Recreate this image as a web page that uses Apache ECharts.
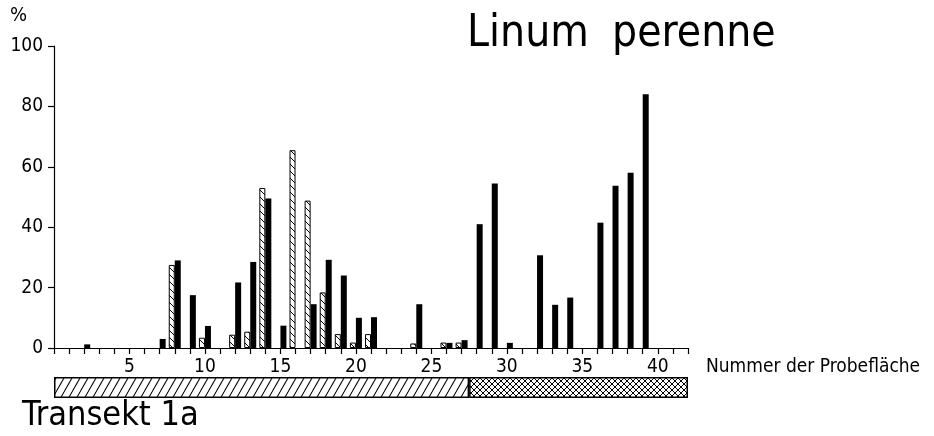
<!DOCTYPE html>
<html>
<head>
<meta charset="utf-8">
<script src="https://cdn.jsdelivr.net/npm/echarts@6/dist/echarts.min.js"></script>
<style>html,body{margin:0;padding:0;background:#fff}#c{width:934px;height:436px}</style>
</head>
<body>
<div id="c"></div>
<script>
// Sample numbers (Nummer der Probefläche), 0..42
const samples = Array.from({length: 43}, (_, i) => String(i));
// Hatched bars (values in %), by sample number
const hatchedPoints = [[8,27.5],[10,3.4],[12,4.4],[13,5.4],[14,53],[16,65.5],[17,48.8],[18,18.4],[19,4.6],[20,1.8],[21,4.6],[24,1.5],[26,1.8],[27,1.8]];
// Black bars (values in %), by sample number
const blackPoints = [[2,1.2],[7,3],[8,29],[9,17.5],[10,7.3],[12,21.7],[13,28.5],[14,49.5],[15,7.4],[17,14.5],[18,29.2],[19,24],[20,10],[21,10.2],[24,14.5],[26,1.7],[27,2.6],[28,41],[29,54.5],[30,1.7],[32,30.7],[33,14.3],[34,16.7],[36,41.5],[37,53.7],[38,58],[39,84]];
// Transect segments: [start, end] along the sample axis
const transectSegments = [[0, 27.5], [27.5, 42]];

function toSeries(points) {
  const arr = samples.map(() => null);
  points.forEach(([n, v]) => { arr[n] = v; });
  return arr;
}

function pattern(type, w, h, lw) {
  const c = document.createElement('canvas');
  c.width = w; c.height = h;
  const g = c.getContext('2d');
  g.fillStyle = '#fff'; g.fillRect(0, 0, w, h);
  g.strokeStyle = '#000'; g.lineWidth = lw;
  const back = () => { for (let k = -1; k <= 1; k++) { g.beginPath(); g.moveTo(k*w, 0); g.lineTo(k*w + w, h); g.stroke(); } };
  const fwd = () => { for (let k = -1; k <= 1; k++) { g.beginPath(); g.moveTo(k*w, h); g.lineTo(k*w + w, 0); g.stroke(); } };
  if (type === 'back') back();
  if (type === 'fwd') fwd();
  if (type === 'cross') { back(); fwd(); }
  return c;
}

const FONT = '"DejaVu Sans Condensed", "DejaVu Sans", sans-serif';
const chart = echarts.init(document.getElementById('c'), null, {renderer: 'canvas'});

chart.setOption({
  animation: false,
  backgroundColor: '#fff',
  grid: [
    {left: 54, top: 46, width: 634, height: 302},
    {left: 54, top: 377, width: 634, height: 21}
  ],
  xAxis: [
    {
      type: 'category', gridIndex: 0, data: samples, boundaryGap: false,
      axisLine: {lineStyle: {color: '#000', width: 1.2}},
      axisTick: {interval: 0, length: 6, lineStyle: {color: '#000', width: 1.2}},
      axisLabel: {interval: 0, margin: 10, color: '#000', fontSize: 19, fontFamily: FONT,
        formatter: v => (Number(v) % 5 === 0 && Number(v) > 0) ? v : ''},
      splitLine: {show: false}
    },
    {type: 'value', gridIndex: 1, min: 0, max: 42, show: false}
  ],
  yAxis: [
    {
      type: 'value', gridIndex: 0, min: 0, max: 100, interval: 20,
      axisLine: {show: true, lineStyle: {color: '#000', width: 1.2}},
      axisTick: {show: true, length: 6, lineStyle: {color: '#000', width: 1.2}},
      axisLabel: {color: '#000', fontSize: 19, fontFamily: FONT, margin: 11},
      splitLine: {show: false}
    },
    {type: 'category', gridIndex: 1, data: ['t'], show: false}
  ],
  series: [
    {
      type: 'bar', xAxisIndex: 0, yAxisIndex: 0, data: toSeries(hatchedPoints),
      barWidth: 6, barGap: '0%',
      itemStyle: {color: {image: pattern('back', 7, 7, 1), repeat: 'repeat'}, borderColor: '#000', borderWidth: 1}
    },
    {
      type: 'bar', xAxisIndex: 0, yAxisIndex: 0, data: toSeries(blackPoints),
      barWidth: 6, barGap: '0%',
      itemStyle: {color: '#000', borderWidth: 0}
    },
    {
      type: 'bar', xAxisIndex: 1, yAxisIndex: 1, stack: 't', barWidth: '100%',
      data: [transectSegments[0][1] - transectSegments[0][0]],
      itemStyle: {color: {image: pattern('fwd', 8, 14, 1.1), repeat: 'repeat'}, borderColor: '#000', borderWidth: 1.5}
    },
    {
      type: 'bar', xAxisIndex: 1, yAxisIndex: 1, stack: 't', barWidth: '100%',
      data: [transectSegments[1][1] - transectSegments[1][0]],
      itemStyle: {color: {image: pattern('cross', 6, 6, 1), repeat: 'repeat'}, borderColor: '#000', borderWidth: 1.5}
    }
  ],
  graphic: [
    {type: 'text', left: 467, top: 13, style: {text: 'Linum', fontSize: 44, fontFamily: FONT, fill: '#000'}},
    {type: 'text', left: 612, top: 13, style: {text: 'perenne', fontSize: 44, fontFamily: FONT, fill: '#000'}},
    {type: 'text', left: 10, top: 6, style: {text: '%', fontSize: 20, fontFamily: FONT, fill: '#000'}},
    {type: 'text', left: 706, top: 358, style: {text: 'Nummer der Probefläche', fontSize: 19, fontFamily: FONT, fill: '#000'}},
    {type: 'text', left: 22, top: 399, style: {text: 'Transekt 1a', fontSize: 34, fontFamily: FONT, fill: '#000'}}
  ]
});
</script>
</body>
</html>
